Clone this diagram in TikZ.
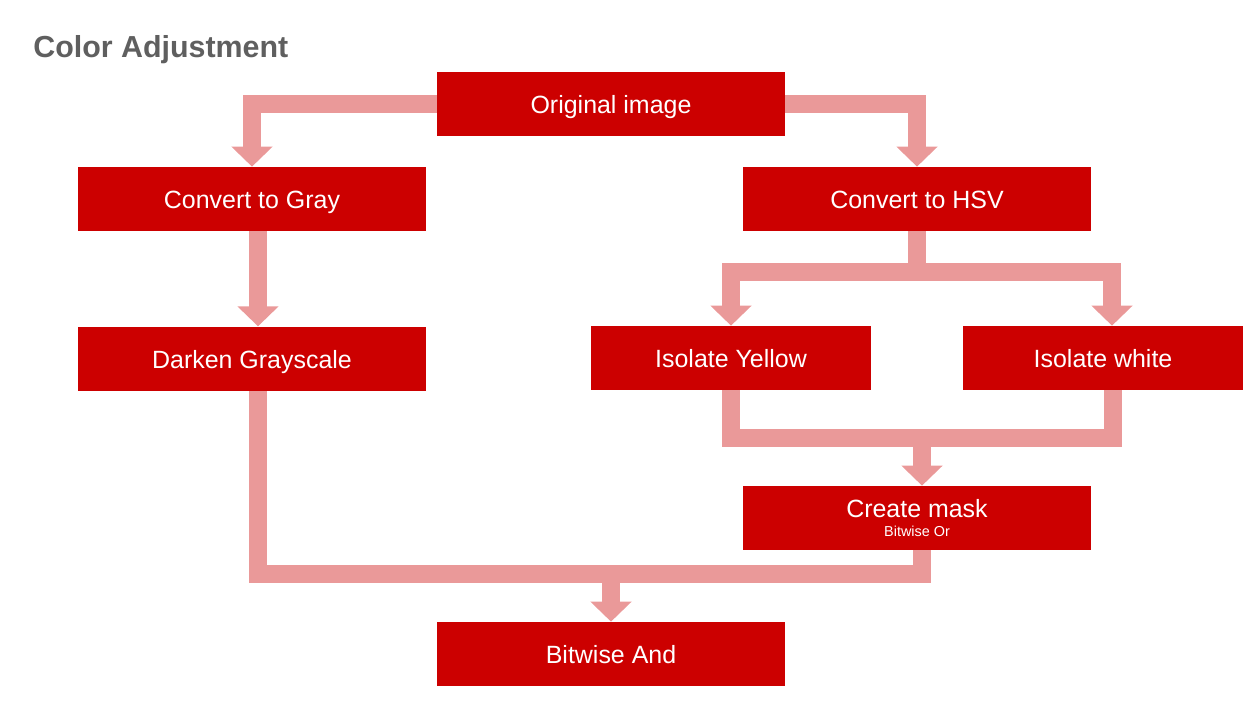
\documentclass[tikz,border=0pt]{standalone}
\usepackage{fontspec}
\setmainfont{Liberation Sans}
\usepackage{xcolor}
\usetikzlibrary{arrows.meta, positioning}
\definecolor{boxred}{HTML}{CC0000}
\definecolor{flowpink}{HTML}{EA9999}
\definecolor{titlegray}{HTML}{5F5F5F}

\begin{document}
\begin{tikzpicture}[
    x=0.02cm, y=-0.02cm,
    node distance=1.9cm and 1cm,
    box/.style={rectangle, fill=boxred, text=white, minimum height=1.28cm, minimum width=#1, inner sep=0pt, align=center, font=\fontsize{14.2}{10.8}\selectfont, text height=11pt, text depth=0pt},
    box/.default=6.96cm,
    flowline/.style={draw=flowpink, line width=0.36cm},
    flow/.style={flowline, -{Triangle[width=0.8cm, length=0.4cm]}},
    heading/.style={font=\bfseries\fontsize{17.3}{20}\selectfont, text=titlegray, inner sep=0pt, anchor=base west}
]
\useasboundingbox (0,0) rectangle (1256,707);
\node[heading] (title) at (33,57) {Color Adjustment};
\node[box] (orig) at (611,104) {Original image};
\node[box] (gray) at (252,199) {Convert to Gray};
\node[box] (hsv) at (917,199) {Convert to HSV};
\node[box, below=1.9cm of gray] (darken) {Darken Grayscale};
\node[box=5.6cm] (yellow) at (731,358) {Isolate Yellow};
\node[box=5.6cm] (iswhite) at (1103,358) {Isolate white};
\node[box, text height={}, text depth={}] (mask) at (917,518) {Create mask\\{\fontsize{8.2}{9}\selectfont Bitwise Or}};
\node[box] (bitand) at (611,654) {Bitwise And};
\coordinate (split) at (917,272);
\coordinate (merge) at (922,438);
\coordinate (join) at (611,574);
% connectors
\draw[flow] (orig.west) -| (gray.north);
\draw[flow] (orig.east) -| (hsv.north);
\draw[flow] ([xshift=0.12cm]gray.south) -- ([xshift=0.12cm]darken.north);
\draw[flowline] (hsv.south) -- (split);
\draw[flow] (split) -| (yellow.north);
\draw[flow] (split) -| ([xshift=0.18cm]iswhite.north);
\draw[flowline] (yellow.south) -- ++(0,48) -| ([xshift=0.2cm]iswhite.south);
\draw[flow] (merge) -- (merge |- mask.north);
\draw[flowline] ([xshift=0.12cm]darken.south) |- (join) -| ([xshift=0.1cm]mask.south);
\draw[flow] (join) -- (bitand.north);
\end{tikzpicture}
\end{document}
